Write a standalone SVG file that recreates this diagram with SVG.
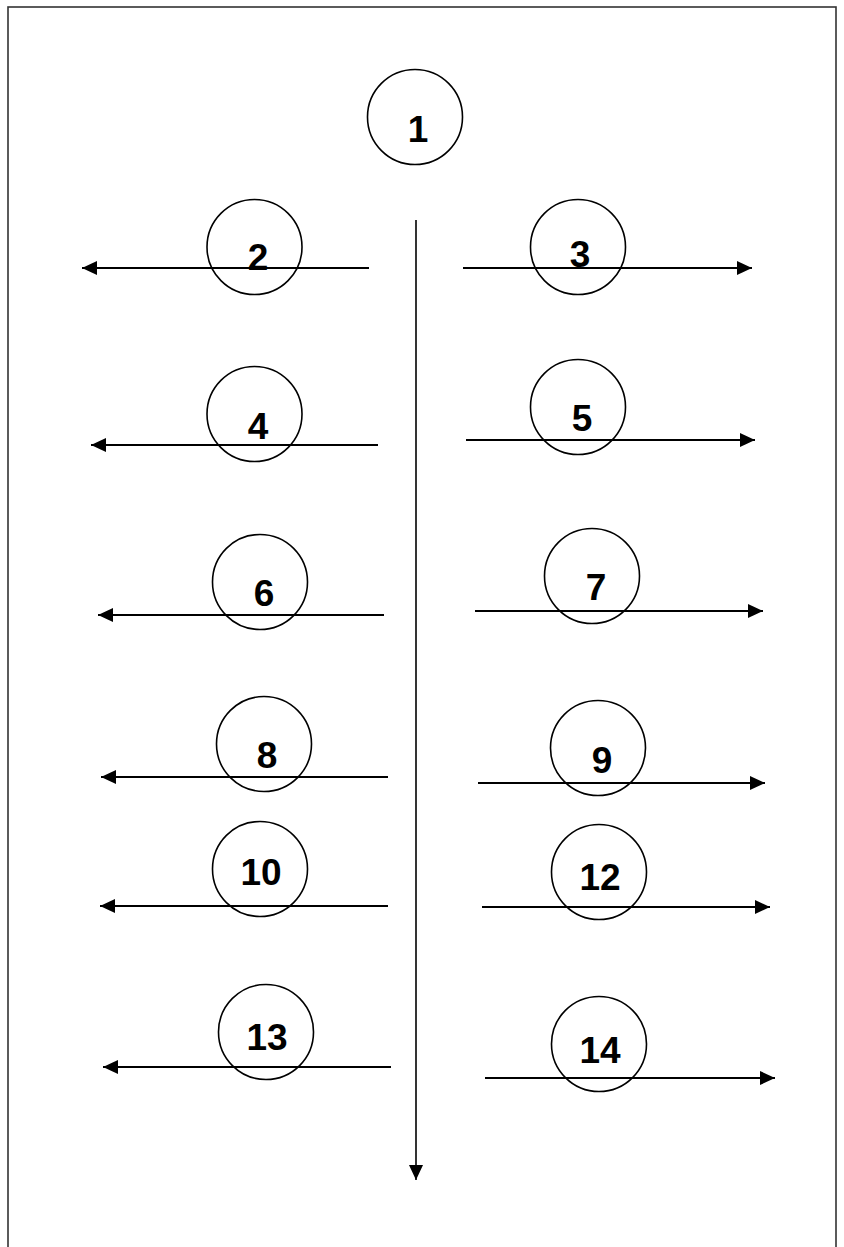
<svg xmlns="http://www.w3.org/2000/svg" width="844" height="1247" viewBox="0 0 844 1247">
  <style>
    .node circle { fill: none; stroke: #000; stroke-width: 1.6; }
    .node text { font-family: "Liberation Sans", Arial, sans-serif; font-weight: bold; font-size: 37px; text-anchor: middle; fill: #000; }
    .conn line { stroke: #000; stroke-width: 2; fill: none; }
    .conn line.main { stroke-width: 1.6; }
  </style>
  <defs>
    <marker id="arrow" markerUnits="userSpaceOnUse" markerWidth="16" markerHeight="16" refX="15" refY="7" orient="auto">
      <path d="M0,0 L15,7 L0,14 Z" fill="#000"/>
    </marker>
  </defs>
  <rect x="0" y="0" width="844" height="1247" fill="#fff"/>
  <rect id="frame" x="8" y="7" width="828" height="1260" fill="none" stroke="#333" stroke-width="1.6"/>

  <g id="connectors" class="conn">
    <line class="main" x1="416" y1="220" x2="416" y2="1180" marker-end="url(#arrow)"/>
    <line x1="369" y1="268" x2="82" y2="268" marker-end="url(#arrow)"/>
    <line x1="463" y1="268" x2="752" y2="268" marker-end="url(#arrow)"/>
    <line x1="378" y1="445" x2="91" y2="445" marker-end="url(#arrow)"/>
    <line x1="466" y1="440" x2="755" y2="440" marker-end="url(#arrow)"/>
    <line x1="384" y1="615" x2="98" y2="615" marker-end="url(#arrow)"/>
    <line x1="475" y1="611" x2="763" y2="611" marker-end="url(#arrow)"/>
    <line x1="388" y1="777" x2="101" y2="777" marker-end="url(#arrow)"/>
    <line x1="478" y1="783" x2="765" y2="783" marker-end="url(#arrow)"/>
    <line x1="388" y1="906" x2="100" y2="906" marker-end="url(#arrow)"/>
    <line x1="482" y1="907" x2="770" y2="907" marker-end="url(#arrow)"/>
    <line x1="391" y1="1067" x2="103" y2="1067" marker-end="url(#arrow)"/>
    <line x1="485" y1="1078" x2="775" y2="1078" marker-end="url(#arrow)"/>
  </g>

  <g id="node1" class="node"><circle cx="415" cy="117" r="47.5"/><text x="418" y="142">1</text></g>
  <g id="node2" class="node"><circle cx="254.5" cy="247" r="47.5"/><text x="258" y="270">2</text></g>
  <g id="node3" class="node"><circle cx="578" cy="247" r="47.5"/><text x="580" y="267">3</text></g>
  <g id="node4" class="node"><circle cx="254.5" cy="414" r="47.5"/><text x="258" y="439">4</text></g>
  <g id="node5" class="node"><circle cx="578" cy="407" r="47.5"/><text x="582" y="431">5</text></g>
  <g id="node6" class="node"><circle cx="260" cy="582" r="47.5"/><text x="264" y="606">6</text></g>
  <g id="node7" class="node"><circle cx="592" cy="576" r="47.5"/><text x="596" y="600">7</text></g>
  <g id="node8" class="node"><circle cx="264" cy="744" r="47.5"/><text x="267" y="768">8</text></g>
  <g id="node9" class="node"><circle cx="598" cy="748" r="47.5"/><text x="602" y="773">9</text></g>
  <g id="node10" class="node"><circle cx="260" cy="869" r="47.5"/><text x="261" y="885">10</text></g>
  <g id="node12" class="node"><circle cx="599" cy="872" r="47.5"/><text x="600" y="890">12</text></g>
  <g id="node13" class="node"><circle cx="266" cy="1032" r="47.5"/><text x="267" y="1050">13</text></g>
  <g id="node14" class="node"><circle cx="599" cy="1044" r="47.5"/><text x="600" y="1063">14</text></g>
</svg>
